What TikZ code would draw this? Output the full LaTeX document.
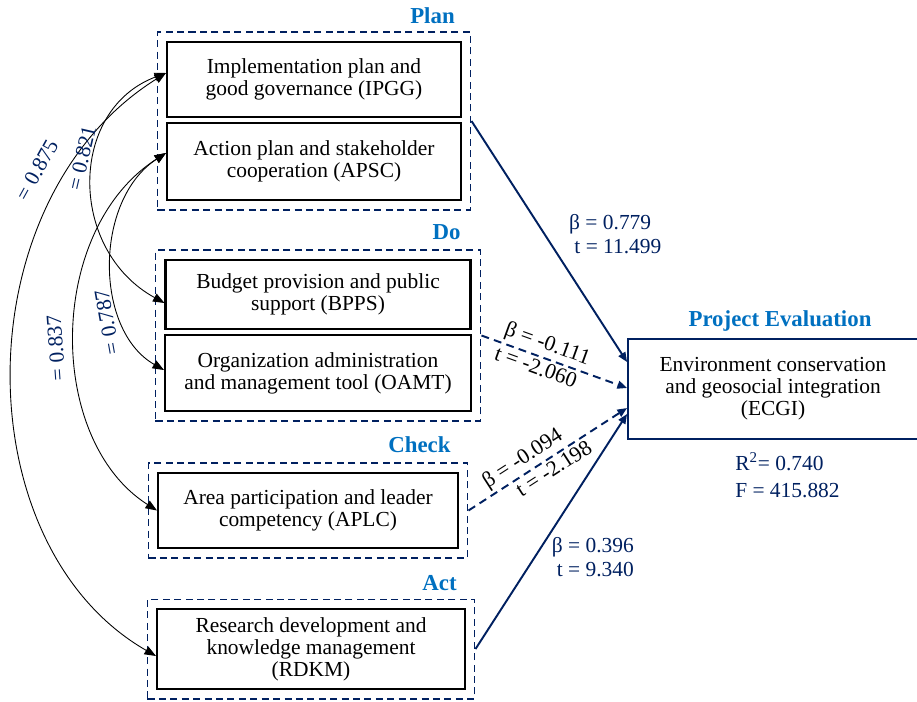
\documentclass[tikz,border=0pt]{standalone}
\usepackage{fontspec}
\setmainfont{Liberation Serif}
\usetikzlibrary{
  arrows.meta,
  positioning,
  calc,
  fit
}
\usepackage{xcolor}
\definecolor{darkNavy}{RGB}{0,32,96}
\definecolor{phaseBlue}{RGB}{0,112,192}
\tikzset{
  factor/.style={
    draw,
    line width = 1.2pt,
    align = center,
    inner sep = 0pt,
    font = \fontsize{12.2}{12.5}\selectfont
  },
  phasebox/.style={
    draw = darkNavy,
    line width = 1.1pt,
    dash pattern = on 4pt off 2.5pt,
    inner sep = 0.17cm
  },
  phase/.style={
    text = phaseBlue,
    font = \fontsize{13}{15}\selectfont\bfseries
  },
  coef/.style={
    text = darkNavy,
    font = \fontsize{12.2}{13.6}\selectfont
  },
  effect/.style={
    -{Triangle[length=5.5pt,width=4.5pt]},
    draw = darkNavy,
    line width = 1.1pt
  },
  corr/.style={
    {Triangle[length=6.5pt,width=5pt]}-{Triangle[length=6.5pt,width=5pt]},
    line width = 0.5pt
  },
  slopelabel/.style={
    sloped,
    inner sep = 1.5pt,
    font = \fontsize{12.4}{13}\selectfont
  }
}

\begin{document}
\begin{tikzpicture}[x=0.02cm, y=-0.02cm]
    \useasboundingbox (0,0) rectangle (917,701);

    % factors
    \node[factor, minimum width=5.88cm, minimum height=1.5cm] (ipgg) at (314,79.5)
    {Implementation plan and\\good governance (IPGG)};
    \node[factor, minimum width=5.88cm, minimum height=1.54cm] (apsc) at (314,161.5)
    {Action plan and stakeholder\\cooperation (APSC)};
    \node[factor, minimum width=6.1cm, minimum height=1.38cm] (bpps) at (318,294.5)
    {Budget provision and public\\support (BPPS)};
    \node[factor, minimum width=6.12cm, minimum height=1.52cm] (oamt) at (318,373)
    {Organization administration\\and management tool (OAMT)};
    \node[factor, minimum width=6cm, minimum height=1.5cm] (aplc) at (308,510.5)
    {Area participation and leader\\competency (APLC)};
    \node[factor, minimum width=6.16cm, minimum height=1.6cm] (rdkm) at (311,649)
    {Research development and\\knowledge management\\(RDKM)};

    \node[factor, draw=darkNavy, line width=1.1pt, minimum width=5.8cm,
      minimum height=2cm] (ecgi) at (773,389)
    {Environment conservation\\and geosocial integration\\(ECGI)};

    % PDCA phases
    \node[phasebox, fit=(ipgg)(apsc)] (plan) {};
    \node[phasebox, fit=(bpps)(oamt)] (do) {};
    \node[phasebox, fit=(aplc)] (check) {};
    \node[phasebox, fit=(rdkm)] (act) {};

    \node[phase] (planlabel) at ($(plan.north east)+(-39,-16)$) {Plan};
    \node[phase] (dolabel) at ($(do.north east)+(-35,-17)$) {Do};
    \node[phase] (checklabel) at ($(check.north east)+(-49,-18)$) {Check};
    \node[phase] (actlabel) at ($(act.north east)+(-36,-15)$) {Act};
    \node[phase] (ecgilabel) at ($(ecgi.north)+(7,-17)$) {Project Evaluation};

    % regression paths
    \draw[effect] (plan.east) -- ($(ecgi.west)+(0,-27)$);
    \draw[effect, dash pattern=on 4.5pt off 3pt] (do.east) --
    node[slopelabel, pos=0.42, above] {β = -0.111}
    node[slopelabel, pos=0.4, below] {t = -2.060}
    ($(ecgi.west)+(0,-1)$);
    \draw[effect, dash pattern=on 4.5pt off 3pt] (check.east) --
    node[slopelabel, pos=0.39, above] {β = -0.094}
    node[slopelabel, pos=0.5, below] {t = -2.198}
    ($(ecgi.west)+(0,19)$);
    \draw[effect] (act.east) -- ($(ecgi.west)+(0,25)$);

    \node[coef, align=left, anchor=west] (planpath) at (563,234)
    {β = 0.779\\\hspace{3pt}t = 11.499};
    \node[coef, align=right, anchor=east] (actpath) at (640,557)
    {β = 0.396\\t = 9.340};
    \node[coef, align=left, anchor=west, font=\fontsize{12.2}{15.3}\selectfont]
    (fitstats) at ($(ecgi.south west)+(102,35)$)
    {R\textsuperscript{2}= 0.740\\F = 415.882};

    % correlations
    \draw[corr] ($(ipgg.west)+(0,-6.5)$)
    .. controls (-37,200) and (-37,545) .. ($(rdkm.west)+(0,7)$);
    \draw[corr] ($(ipgg.west)+(0,-6.5)$)
    .. controls (68,110) and (68,250) .. ($(bpps.west)+(0,8.5)$);
    \draw[corr] ($(apsc.west)+(0,-8.5)$)
    .. controls (94,200) and (94,330) .. ($(oamt.west)+(0,-3)$);
    \draw[corr] ($(apsc.west)+(0,-8.5)$)
    .. controls (46,230) and (46,440) .. (aplc.west);

    \node[coef, rotate=61] (r875) at (37,170) {= 0.875};
    \node[coef, rotate=77] (r821) at (82,158) {= 0.821};
    \node[coef, rotate=100] (r787) at (107,322) {= 0.787};
    \node[coef, rotate=94] (r837) at (56,348) {= 0.837};
\end{tikzpicture}
\end{document}
